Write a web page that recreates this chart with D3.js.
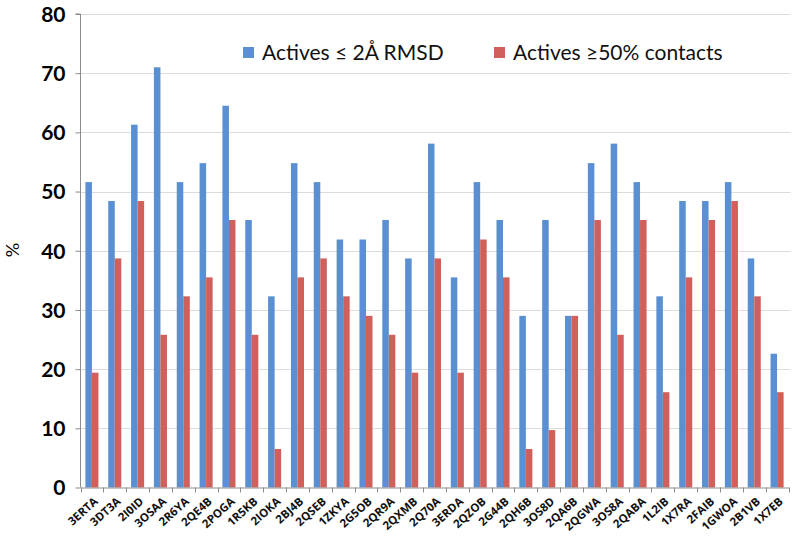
<!DOCTYPE html>
<html><head><meta charset="utf-8">
<script src="https://cdn.jsdelivr.net/npm/d3@7"></script>
<style>body{margin:0;background:#fff}svg{display:block}</style>
</head><body>
<svg id="c" width="800" height="546"></svg>
<script>
const categories = ["3ERTA","3DT3A","2I0ID","3OSAA","2R6YA","2QE4B","2POGA","1R5KB","2IOKA","2BJ4B","2QSEB","1ZKYA","2G5OB","2QR9A","2QXMB","2Q70A","3ERDA","2QZOB","2G44B","2QH6B","3OS8D","2QA6B","2QGWA","3OS8A","2QABA","1L2IB","1X7RA","2FAIB","1GWOA","2B1VB","1X7EB"];
const rmsdValues = [51.6,48.4,61.3,71.0,51.6,54.8,64.5,45.2,32.3,54.8,51.6,41.9,41.9,45.2,38.7,58.1,35.5,51.6,45.2,29.0,45.2,29.0,54.8,58.1,51.6,32.3,48.4,48.4,51.6,38.7,22.6];
const contactValues = [19.4,38.7,48.4,25.8,32.3,35.5,45.2,25.8,6.5,35.5,38.7,32.3,29.0,25.8,19.4,38.7,19.4,41.9,35.5,6.5,9.7,29.0,45.2,25.8,45.2,16.1,35.5,45.2,48.4,32.3,16.1];
const seriesNames = ["Actives \u2264 2\u00C5 RMSD","Actives \u226550% contacts"];
const yTicks = [0,10,20,30,40,50,60,70,80];
const colors = ["#5A8FD2","#D0605B"];

const svg = d3.select("#c");
const m = {l:80.5, r:788.5, t:14, b:487.5};
const x = d3.scaleBand().domain(categories).range([m.l, m.r]);
const inner = d3.scaleBand().domain([0,1]).range([0, x.bandwidth()]).paddingInner(0).paddingOuter(0.75);
const y = d3.scaleLinear().domain([0,80]).range([m.b, m.t]);

// gridlines
svg.append("g").selectAll("line").data(yTicks.filter(d=>d>0)).join("line")
  .attr("x1", m.l).attr("x2", m.r+2)
  .attr("y1", d=>Math.round(y(d))+0.5).attr("y2", d=>Math.round(y(d))+0.5)
  .attr("stroke","#dcdcdc").attr("stroke-width",1);

// bars
const series = [rmsdValues, contactValues];
series.forEach((vals, si) => {
  svg.append("g").selectAll("rect").data(vals).join("rect")
    .attr("x", (d,i)=> x(categories[i]) + inner(si))
    .attr("width", inner.bandwidth())
    .attr("y", d=>y(d))
    .attr("height", d=>y(0)-y(d))
    .attr("fill", colors[si]);
});

// y axis
const yAxis = d3.axisLeft(y).tickValues(yTicks).tickSize(5).tickPadding(10);
const gy = svg.append("g").attr("transform",`translate(${m.l},0)`).call(yAxis);
gy.select(".domain").attr("stroke","#8c8c8c").attr("d",`M-5,${m.t}H0V${m.b}`);
gy.selectAll(".tick line").attr("stroke","#8c8c8c");
gy.selectAll(".tick text").attr("font-family","Lato, 'Open Sans', sans-serif")
  .attr("font-weight","bold").attr("font-size","21px").attr("fill","#000").attr("dy","0.35em");

// x axis
const xAxis = d3.axisBottom(x).tickSize(0).tickFormat(d=>d);
const gx = svg.append("g").attr("transform",`translate(0,${m.b})`).call(xAxis);
gx.select(".domain").attr("stroke","#8c8c8c");
gx.selectAll(".tick text")
  .attr("font-family","'Open Sans', Lato, sans-serif").attr("font-weight","bold")
  .attr("font-size","11.5px").attr("fill","#111")
  .attr("text-anchor","end")
  .attr("transform","translate(4,12) rotate(-42)")
  .attr("dy","0.35em").attr("y",0).attr("x",0);
// boundary ticks
const bounds = categories.map(c=>x(c)).concat([m.r]);
svg.append("g").selectAll("line").data(bounds).join("line")
  .attr("x1",d=>Math.round(d)+0.5).attr("x2",d=>Math.round(d)+0.5)
  .attr("y1",m.b).attr("y2",m.b+5).attr("stroke","#8c8c8c");

// y title
svg.append("text").attr("transform","translate(19,250) rotate(-90)")
  .attr("text-anchor","middle").attr("font-family","Lato, 'Open Sans', sans-serif")
  .attr("font-size","18px").text("%");

// legend
const leg = [{x:243, tx:262},{x:494, tx:513}];
leg.forEach((L,i)=>{
  svg.append("rect").attr("x",L.x).attr("y",47).attr("width",11).attr("height",11).attr("fill",colors[i]);
  svg.append("text").attr("x",L.tx).attr("y",59.5).attr("font-family","Lato, 'Open Sans', sans-serif")
    .attr("font-size","21px").attr("fill","#111").text(seriesNames[i]);
});
</script>
</body></html>
